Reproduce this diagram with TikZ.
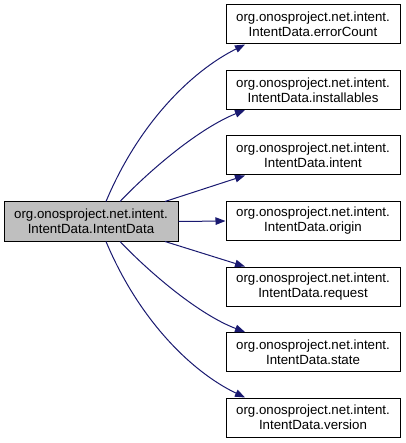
\documentclass[tikz,border=0pt]{standalone}
\usepackage{fontspec}
\setmainfont{Liberation Sans}
\usetikzlibrary{arrows.meta}
\definecolor{edgecol}{HTML}{191970}
\definecolor{hlfill}{HTML}{BFBFBF}
\tikzset{
  box/.style={draw=black, line width=1pt, fill=white, minimum width=174pt, minimum height=39pt,
    inner sep=0pt, align=center, font=\fontsize{13.3pt}{15pt}\selectfont},
  hlbox/.style={box, fill=hlfill},
  edge/.style={draw=edgecol, line width=1pt, -{Triangle[length=10pt,width=7.5pt]}, fill=none},
}
\begin{document}
\begin{tikzpicture}[x=1pt,y=-1pt]
\useasboundingbox (0,0) rectangle (405,443);
\node[hlbox] (L) at (91,221.5) {org.onosproject.net.intent.\\IntentData.IntentData};
\node[box] (R0) at (313,24.5) {org.onosproject.net.intent.\\IntentData.errorCount};
\node[box] (R1) at (313,90) {org.onosproject.net.intent.\\IntentData.installables};
\node[box] (R2) at (313,155.5) {org.onosproject.net.intent.\\IntentData.intent};
\node[box] (R3) at (313,221) {org.onosproject.net.intent.\\IntentData.origin};
\node[box] (R4) at (313,286.5) {org.onosproject.net.intent.\\IntentData.request};
\node[box] (R5) at (313,352) {org.onosproject.net.intent.\\IntentData.state};
\node[box] (R6) at (313,417.5) {org.onosproject.net.intent.\\IntentData.version};
\draw[edge] ([xshift=15pt]L.north) .. controls (138,125) and (190,72) .. ([xshift=-68pt]R0.south);
\draw[edge] ([xshift=29pt]L.north) .. controls (152,168) and (200,128) .. ([xshift=-68pt]R1.south);
\draw[edge] ([xshift=74pt]L.north) -- ([xshift=-68pt]R2.south);
\draw[edge] (L.east) -- (R3.west);
\draw[edge] ([xshift=74pt]L.south) -- ([xshift=-68pt]R4.north);
\draw[edge] ([xshift=29pt]L.south) .. controls (152,275) and (200,315) .. ([xshift=-68pt]R5.north);
\draw[edge] ([xshift=15pt]L.south) .. controls (138,318) and (190,371) .. ([xshift=-68pt]R6.north);
\end{tikzpicture}
\end{document}
